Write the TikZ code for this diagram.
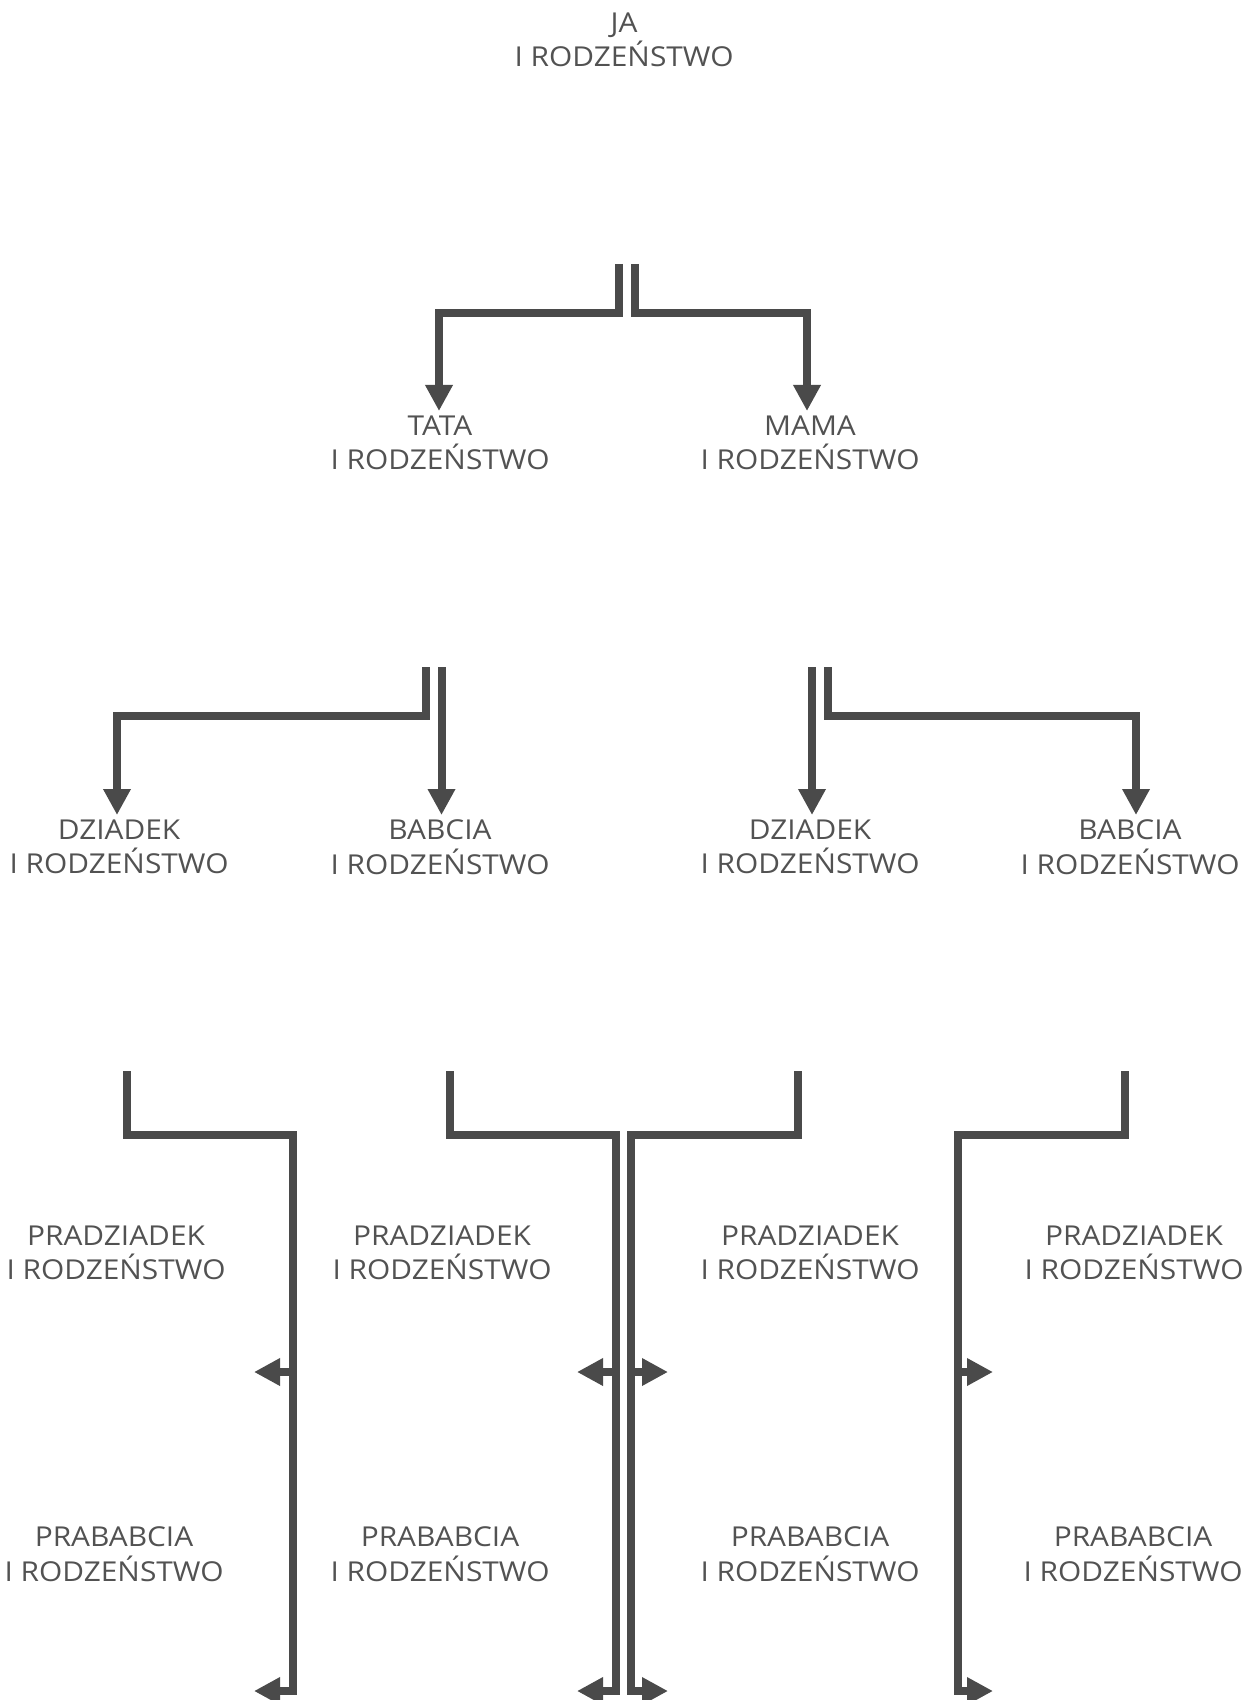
\documentclass[tikz,border=0pt]{standalone}
\usepackage{fontspec}
\setmainfont[FakeStretch=1.09]{Open Sans}
\usetikzlibrary{arrows.meta}
\definecolor{linec}{HTML}{4A4A4A}
\definecolor{textc}{HTML}{525252}
\begin{document}
\begin{tikzpicture}[x=0.5pt,y=-0.5pt,
  conn/.style={draw=linec, line width=4pt},
  arr/.style={conn, -{Triangle[length=13pt,width=13pt]}},
  lbl/.style={anchor=north, inner sep=2pt, align=center, text=textc,
    font=\fontsize{13.7}{17.4}\selectfont}]
\useasboundingbox (0,0) rectangle (1252,1700);
% labels
\node[lbl] (ja)   at (624,8)    {JA\\I RODZEŃSTWO};
\node[lbl] (tata) at (440,411)  {TATA\\I RODZEŃSTWO};
\node[lbl] (mama) at (810,411)  {MAMA\\I RODZEŃSTWO};
\node[lbl] (dzl)  at (119,815)  {DZIADEK\\I RODZEŃSTWO};
\node[lbl] (babl) at (440,815)  {BABCIA\\I RODZEŃSTWO};
\node[lbl] (dzr)  at (810,815)  {DZIADEK\\I RODZEŃSTWO};
\node[lbl] (babr) at (1130,815) {BABCIA\\I RODZEŃSTWO};
\node[lbl] (pd1)  at (116,1221) {PRADZIADEK\\I RODZEŃSTWO};
\node[lbl] (pd2)  at (442,1221) {PRADZIADEK\\I RODZEŃSTWO};
\node[lbl] (pd3)  at (810,1221) {PRADZIADEK\\I RODZEŃSTWO};
\node[lbl] (pd4)  at (1134,1221){PRADZIADEK\\I RODZEŃSTWO};
\node[lbl] (pb1)  at (114,1522) {PRABABCIA\\I RODZEŃSTWO};
\node[lbl] (pb2)  at (440,1522) {PRABABCIA\\I RODZEŃSTWO};
\node[lbl] (pb3)  at (810,1522) {PRABABCIA\\I RODZEŃSTWO};
\node[lbl] (pb4)  at (1133,1522){PRABABCIA\\I RODZEŃSTWO};
% level 1 connectors
\coordinate (t1) at (619,264);
\coordinate (t2) at (635,264);
\coordinate (tl) at (439,313);
\coordinate (tr) at (807,313);
\draw[arr] (t1) |- (tl) -- (tl |- tata.north);
\draw[arr] (t2) |- (tr) -- (tr |- mama.north);
% level 2 connectors
\coordinate (a1) at (425.5,667);
\coordinate (a2) at (441.5,667);
\coordinate (al) at (117,715.5);
\draw[arr] (a1) |- (al) -- (al |- dzl.north);
\draw[arr] (a2) -- (a2 |- babl.north);
\coordinate (b1) at (812,667);
\coordinate (b2) at (828,667);
\coordinate (br) at (1136,715.5);
\draw[arr] (b1) -- (b1 |- dzr.north);
\draw[arr] (b2) |- (br) -- (br |- babr.north);
% level 3 connectors
\coordinate (c1) at (127,1071);  \coordinate (c1v) at (293,1135);
\coordinate (c1m) at (254,1372); \coordinate (c1b) at (254,1691);
\coordinate (c2) at (450,1071);  \coordinate (c2v) at (615.5,1135);
\coordinate (c2m) at (577,1372); \coordinate (c2b) at (577,1691);
\coordinate (c3) at (798,1071);  \coordinate (c3v) at (631,1135);
\coordinate (c3m) at (668,1372); \coordinate (c3b) at (668,1691);
\coordinate (c4) at (1125,1071); \coordinate (c4v) at (958,1135);
\coordinate (c4m) at (993,1372); \coordinate (c4b) at (993,1691);
\foreach \i in {1,2,3,4}{
  \draw[arr] (c\i) |- (c\i v) |- (c\i b);
  \draw[arr] (c\i v |- c\i m) -- (c\i m);
}
\end{tikzpicture}
\end{document}
